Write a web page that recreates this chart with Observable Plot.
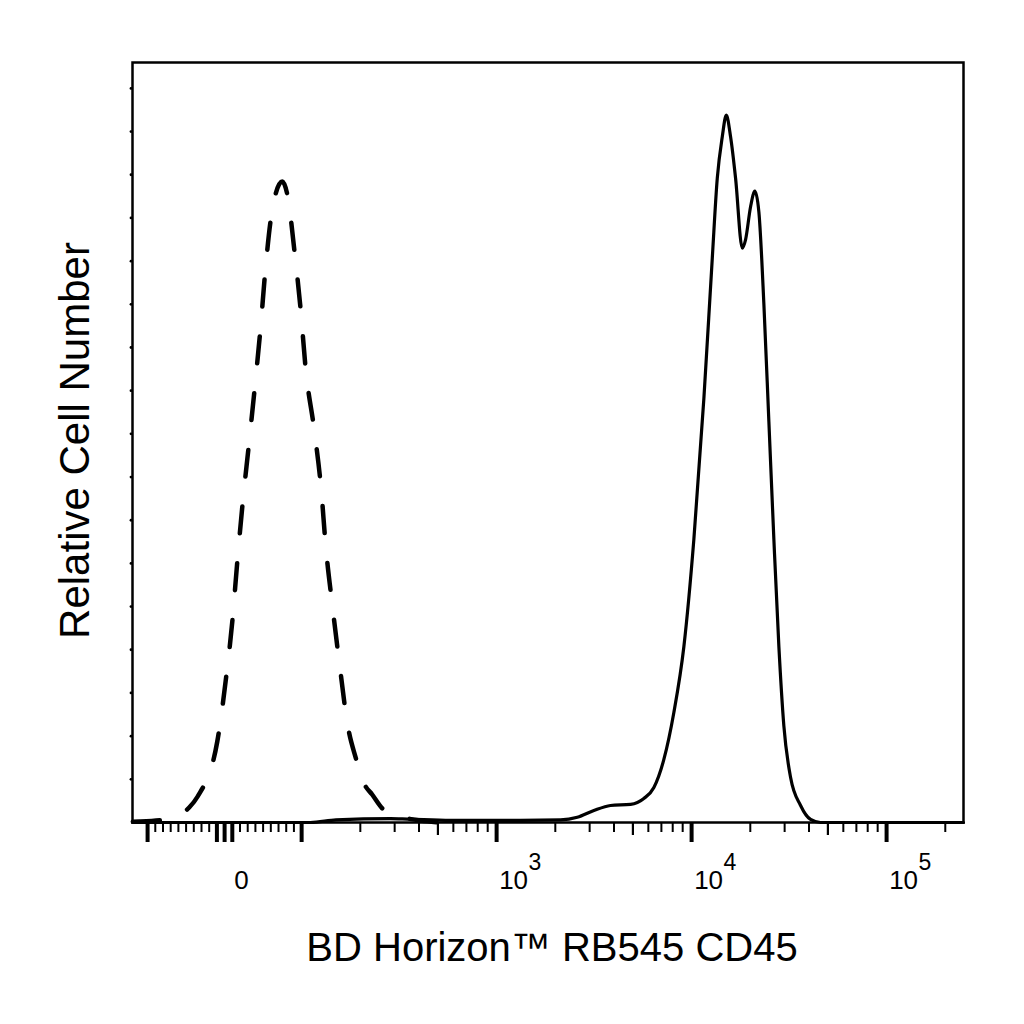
<!DOCTYPE html>
<html>
<head>
<meta charset="utf-8">
<script src="https://cdn.jsdelivr.net/npm/d3@7"></script>
<script src="https://cdn.jsdelivr.net/npm/@observablehq/plot@0.6"></script>
<style>
  html, body { margin: 0; padding: 0; background: #fff; }
  #chart { width: 1024px; height: 1024px; }
</style>
</head>
<body>
<div id="chart"></div>
<script>
// ---- Data (fluorescence intensity, relative cell number) ----
// Isotype control (dashed)
const isoX = [-119, -110, -80, -60, -46, -35, -9.5, 1.3, 10, 16.5, 23, 31.5, 39.3, 46.7, 53.2, 61.9, 74.9, 81.4, 90.9, 98.7, 105, 116, 126, 133, 144, 157, 172, 190, 209, 230, 260, 296, 350, 407, 500];
const isoY = [0.1, 0.12, 0.3, 0.8, 1.74, 3.01, 9.38, 16.33, 23.27, 30.22, 36.59, 43.77, 50.48, 57.32, 64.26, 70.98, 74.22, 72.72, 66.0, 59.4, 52.45, 45.5, 38.56, 31.96, 25.0, 18.06, 11.35, 7.4, 4.52, 3.24, 1.6, 0.81, 0.46, 0.23, 0];

// RB545 CD45 stained (solid)
const cdX = [-119, 111, 150, 286, 350, 581, 1327, 2128, 2593, 3154, 3837, 4864, 5689, 6406, 7207, 8110, 9130, 10273, 11561, 12763, 13543, 14366, 15063, 15846, 16809, 18194, 18916, 20065, 21115, 22131, 23483, 24908, 26420, 28025, 29727, 32191, 36219, 40747, 45845, 58076, 248000];
const cdY = [0, 0, 0.3, 0.45, 0.4, 0.25, 0.25, 0.3, 0.6, 1.39, 1.97, 2.1, 2.78, 4.05, 7.3, 12.74, 20.38, 32.8, 49.1, 65.3, 74.6, 79.4, 81.9, 79.4, 74.6, 66.5, 67.5, 71.3, 73.1, 70.7, 60, 46.4, 32.8, 20.4, 11.2, 5.2, 1.97, 0.35, 0, 0, 0];

// Axis ticks
const majorTicks = [-100, -10, 0, 10, 100, 1000, 10000, 100000];
const mediumTicks = [500, 5000, 50000];
const minorTicks = [-90, -80, -70, -60, -50, -40, -30, -20, 20, 30, 40, 50, 60, 70, 80, 90,
  200, 300, 400, 600, 700, 800, 900,
  2000, 3000, 4000, 6000, 7000, 8000, 9000,
  20000, 30000, 40000, 60000, 70000, 80000, 90000, 200000];
const labelValues = [0, 1000, 10000, 100000];
const labelBase = ["0", "10", "10", "10"];
const labelExp = ["", "3", "4", "5"];
const yTicks = [5, 10, 15, 20, 25, 30, 35, 40, 45, 50, 55, 60, 65, 70, 75, 80, 85];
const xDomainRaw = [-119.5, 248000];
const yDomain = [0, 88];
const xTitle = "BD Horizon™ RB545 CD45";
const yTitle = "Relative Cell Number";

// Biexponential-like display transform: linear near zero, log beyond ±100
const LIN = 100, LINW = 0.395;
function biex(v) {
  const a = Math.abs(v), s = Math.sign(v);
  return a <= LIN ? (v / LIN) * LINW : s * (LINW + Math.log10(a / LIN));
}

const iso = isoX.map((x, i) => ({x, y: isoY[i]}));
const cd = cdX.map((x, i) => ({x, y: cdY[i]}));
const labels = labelValues.map((v, i) => ({v, base: labelBase[i], exp: labelExp[i]}));

const font = "'Liberation Sans', Arial, Helvetica, sans-serif";

const chart = Plot.plot({
  width: 1024,
  height: 1024,
  marginLeft: 132,
  marginRight: 61,
  marginTop: 62,
  marginBottom: 202,
  style: {fontFamily: font, background: "white", color: "black", overflow: "visible"},
  x: {type: "linear", domain: xDomainRaw.map(biex)},
  y: {domain: yDomain, axis: null},
  marks: [
    Plot.axisX({ticks: minorTicks.map(biex), tickSize: 10, strokeWidth: 2, tickFormat: () => "", fill: "none", label: null}),
    Plot.axisX({ticks: mediumTicks.map(biex), tickSize: 13, strokeWidth: 2.2, tickFormat: () => "", fill: "none", label: null}),
    Plot.axisX({ticks: majorTicks.map(biex), tickSize: 20, strokeWidth: 4, tickFormat: () => "", fill: "none", label: null}),
    Plot.dot(yTicks, {x: () => biex(xDomainRaw[0]), y: d => d, r: 1.4, fill: "black", stroke: null, dx: -1.5}),
    Plot.line(iso, {x: d => biex(d.x), y: "y", stroke: "black", strokeWidth: 4.5, strokeDasharray: "27,30", curve: "monotone-x"}),
    Plot.line(cd, {x: d => biex(d.x), y: "y", stroke: "black", strokeWidth: 3.2, curve: "monotone-x"}),
    Plot.frame({stroke: "black", strokeWidth: 2.5}),
    Plot.text(labels, {x: d => biex(d.v), text: "base", frameAnchor: "bottom", dx: 17, dy: 66, lineAnchor: "bottom", fontSize: 26, fill: "black"}),
    Plot.text(labels.filter(d => d.exp), {x: d => biex(d.v), text: "exp", frameAnchor: "bottom", dx: 32, dy: 47, lineAnchor: "bottom", textAnchor: "start", fontSize: 23, fill: "black"}),
    Plot.text([xTitle], {frameAnchor: "bottom", dx: 4, dy: 138, lineAnchor: "bottom", fontSize: 40, fill: "black"}),
    Plot.text([yTitle], {frameAnchor: "left", rotate: -90, dx: -44, dy: -2, lineAnchor: "bottom", textAnchor: "middle", fontSize: 42, fill: "black"})
  ]
});
document.getElementById("chart").appendChild(chart);
</script>
</body>
</html>
